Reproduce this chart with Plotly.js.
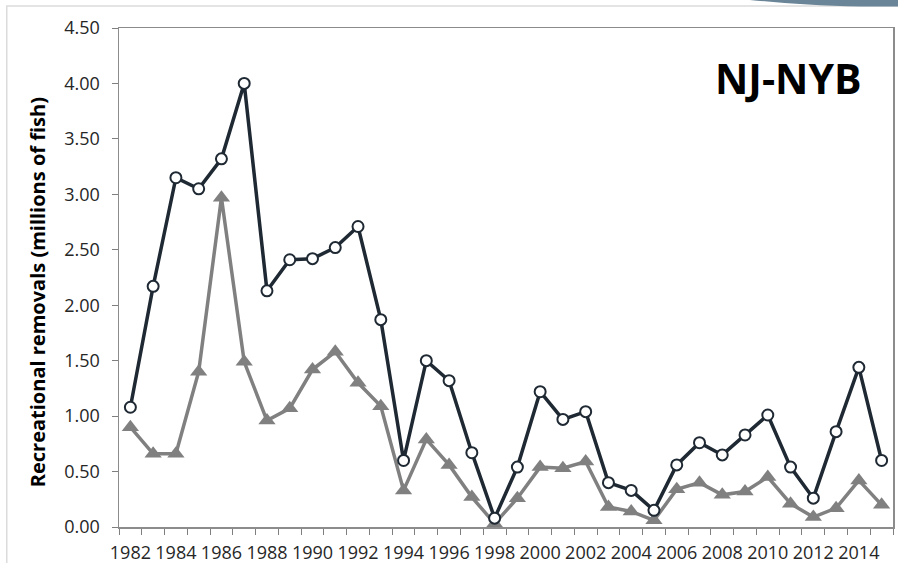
<!DOCTYPE html>
<html>
<head>
<meta charset="utf-8">
<script src="https://cdn.plot.ly/plotly-3.0.1.min.js"></script>
<style>
  html, body { margin: 0; padding: 0; background: #fff; }
  #chart_div { width: 898px; height: 563px; }
</style>
</head>
<body>
<div id="chart_div"></div>
<script>
var years = [1982, 1983, 1984, 1985, 1986, 1987, 1988, 1989, 1990, 1991, 1992, 1993,
             1994, 1995, 1996, 1997, 1998, 1999, 2000, 2001, 2002, 2003, 2004, 2005,
             2006, 2007, 2008, 2009, 2010, 2011, 2012, 2013, 2014, 2015];

// total removals (circles)
var total_removals = [1.08, 2.17, 3.15, 3.05, 3.32, 4.00, 2.13, 2.41, 2.42, 2.52, 2.71, 1.87,
                      0.60, 1.50, 1.32, 0.67, 0.08, 0.54, 1.22, 0.97, 1.04, 0.40, 0.33, 0.15,
                      0.56, 0.76, 0.65, 0.83, 1.01, 0.54, 0.26, 0.86, 1.44, 0.60];

// second series (triangles)
var other_removals = [0.90, 0.66, 0.66, 1.40, 2.97, 1.49, 0.96, 1.07, 1.42, 1.58, 1.30, 1.09,
                      0.33, 0.79, 0.56, 0.27, 0.03, 0.26, 0.54, 0.53, 0.59, 0.18, 0.14, 0.06,
                      0.34, 0.40, 0.29, 0.32, 0.45, 0.21, 0.09, 0.17, 0.42, 0.20];

var label_years = years.filter(function (y) { return y % 2 === 0; });
var bounds = years.map(function (y) { return y - 0.5; });
bounds.push(years[years.length - 1] + 0.5);

function drawChart() {
    var trace1 = {
        x: years,
        y: other_removals,
        mode: 'lines+markers',
        line: {color: '#808080', width: 3.5},
        marker: {symbol: 'triangle-up', size: 15, color: '#808080'},
        type: 'scatter',
        showlegend: false
    };

    var trace2 = {
        x: years,
        y: total_removals,
        mode: 'lines+markers',
        line: {color: '#1f2933', width: 3.5},
        marker: {symbol: 'circle', size: 11, color: '#ffffff',
                 line: {color: '#1f2933', width: 2}},
        type: 'scatter',
        showlegend: false
    };

    var layout = {
        width: 898,
        height: 563,
        margin: {l: 119, r: 5, t: 28, b: 36},
        paper_bgcolor: '#ffffff',
        plot_bgcolor: '#ffffff',
        font: {family: 'Open Sans, sans-serif', color: '#262626'},
        xaxis: {
            range: [years[0] - 0.5, years[years.length - 1] + 0.5],
            tickmode: 'array',
            tickvals: label_years,
            ticktext: label_years.map(String),
            ticks: 'outside',
            ticklen: 0,
            ticklabelstandoff: 9,
            tickfont: {size: 18, color: '#262626'},
            minor: {tickmode: 'array', tickvals: bounds, ticks: 'outside',
                    ticklen: 6, tickwidth: 1, tickcolor: '#7f7f7f', showgrid: false},
            showgrid: false,
            zeroline: false,
            showline: true,
            linecolor: '#8c8c8c',
            linewidth: 1.5,
            mirror: true,
            fixedrange: true
        },
        yaxis: {
            range: [0, 4.5],
            tickvals: [0, 0.5, 1, 1.5, 2, 2.5, 3, 3.5, 4, 4.5],
            tickformat: '.2f',
            ticks: 'outside',
            ticklen: 6,
            tickcolor: '#7f7f7f',
            ticklabelstandoff: 8,
            tickfont: {size: 18, color: '#262626'},
            showgrid: false,
            zeroline: false,
            showline: true,
            linecolor: '#8c8c8c',
            linewidth: 1.5,
            mirror: true,
            fixedrange: true
        },
        annotations: [
            {text: 'Recreational removals (millions of fish)', xref: 'paper', yref: 'paper',
             x: -0.105, y: 0.47, xanchor: 'center', yanchor: 'middle',
             textangle: -90, showarrow: false,
             font: {size: 20, color: '#000000', family: 'Open Sans, sans-serif', weight: 'bold'}},
            {text: '<b>NJ-NYB</b>', xref: 'paper', yref: 'paper',
             x: 0.865, y: 0.9, xanchor: 'center', yanchor: 'middle', showarrow: false,
             font: {size: 41, color: '#000000', family: 'Open Sans, sans-serif'}}
        ],
        shapes: [
            // slide frame
            {type: 'rect', xref: 'paper', yref: 'paper', layer: 'below',
             x0: -0.145, x1: 1.02, y0: -0.08, y1: 1.044,
             line: {color: '#dcdcdc', width: 1.5}},
            // decoration at top right
            {type: 'path', xref: 'paper', yref: 'paper',
             path: 'M 0.815 1.0561 C 0.86 1.05, 0.9 1.044, 0.96 1.043 L 1.01 1.043 L 1.01 1.0561 Z',
             fillcolor: '#6a8597', line: {width: 0}}
        ]
    };

    Plotly.newPlot('chart_div', [trace1, trace2], layout, {displayModeBar: false, staticPlot: true});
}

drawChart();
</script>
</body>
</html>
